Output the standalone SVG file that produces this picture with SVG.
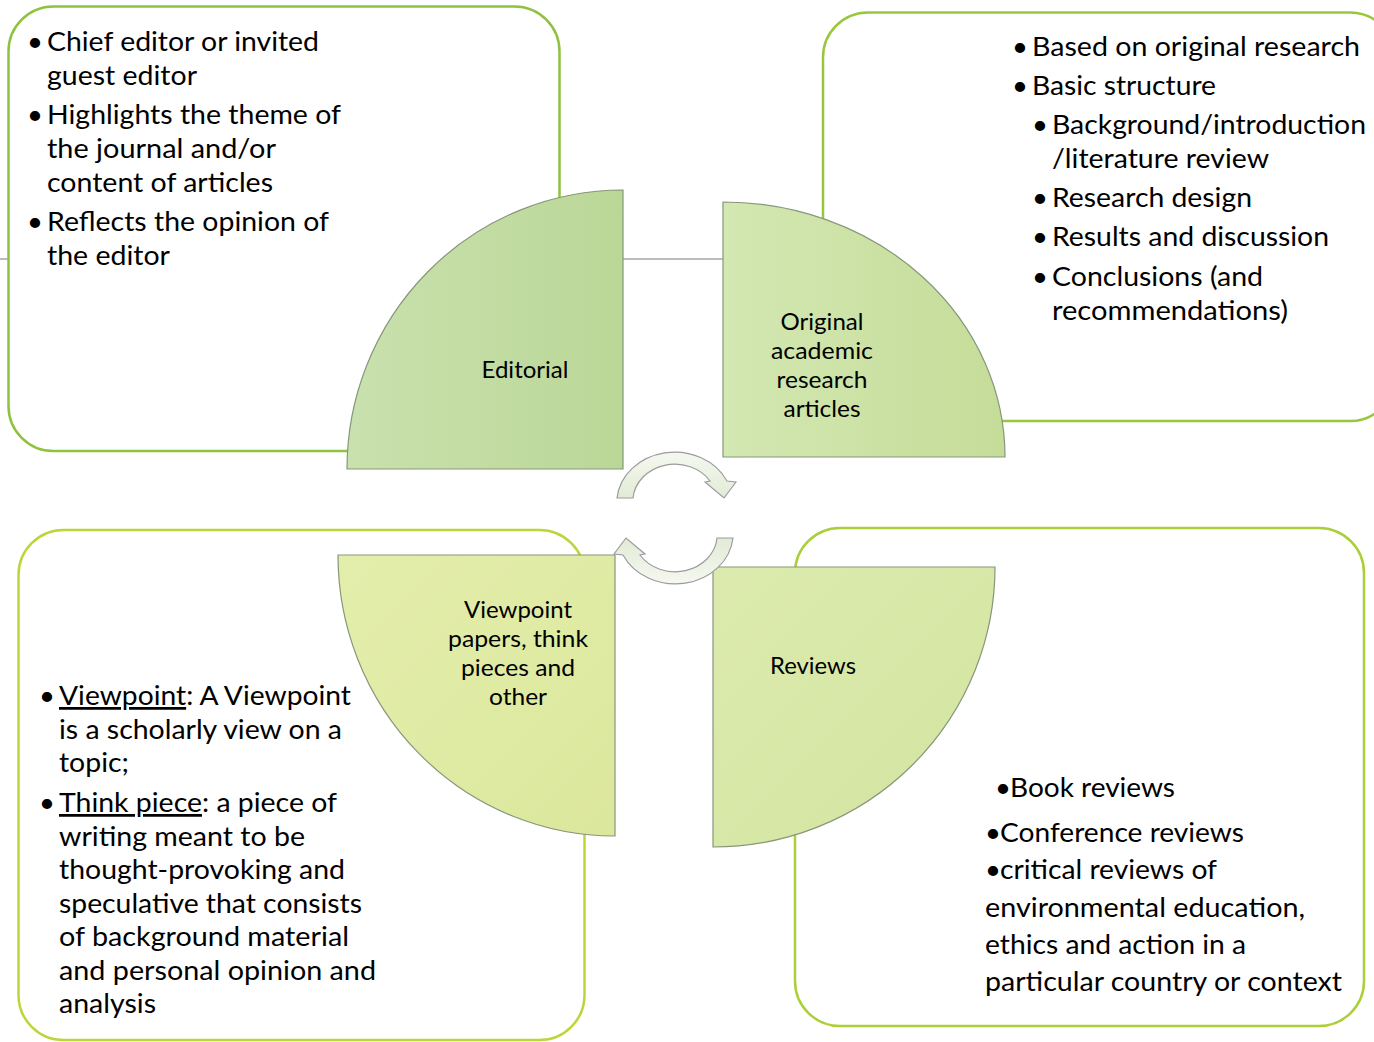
<svg xmlns="http://www.w3.org/2000/svg" width="1374" height="1042" viewBox="0 0 1374 1042">
<defs>
  <linearGradient id="gEd" x1="0" y1="0" x2="1" y2="0"><stop offset="0" stop-color="#c9e1ae"/><stop offset="1" stop-color="#bbd797"/></linearGradient>
  <linearGradient id="gOr" x1="0" y1="0" x2="1" y2="0"><stop offset="0" stop-color="#d3e8b2"/><stop offset="1" stop-color="#c5dc99"/></linearGradient>
  <linearGradient id="gVp" x1="0" y1="0" x2="1" y2="1"><stop offset="0" stop-color="#e4eeac"/><stop offset="1" stop-color="#dbe79c"/></linearGradient>
  <linearGradient id="gRv" x1="0" y1="0" x2="1" y2="1"><stop offset="0" stop-color="#dcebad"/><stop offset="1" stop-color="#d3e4a1"/></linearGradient>
  <linearGradient id="gArr" x1="0" y1="0" x2="0" y2="1"><stop offset="0" stop-color="#f5f8f0"/><stop offset="1" stop-color="#e2ebd6"/></linearGradient>
</defs>
<style>
  .box { fill: #ffffff; stroke-width: 2.5; }
  .q { stroke: #86977a; stroke-width: 1.2; }
  .t { font-family: Lato, "Liberation Sans", sans-serif; font-size: 27.5px; fill: #000000; }
  .b { font-family: Lato, "Liberation Sans", sans-serif; font-size: 27.5px; fill: #000000; text-anchor: middle; }
  .lbl { font-family: Lato, "Liberation Sans", sans-serif; font-size: 23px; fill: #000000; text-anchor: middle; }
  .arr { fill: url(#gArr); stroke: #9c9c9c; stroke-width: 1.2; }
  .u { text-decoration: underline; }
</style>
<rect x="0" y="0" width="1374" height="1042" fill="#ffffff"/>

<g id="guides">
  <line x1="0" y1="259" x2="8" y2="259" stroke="#7a7a7a" stroke-width="1"/>
  <line x1="8" y1="259" x2="345" y2="259" stroke="#cccccc" stroke-width="1" stroke-dasharray="1 2"/>
  <line x1="901" y1="259" x2="1374" y2="259" stroke="#cccccc" stroke-width="1" stroke-dasharray="1 2"/>
  <line x1="623" y1="259" x2="723" y2="259" stroke="#7a7a7a" stroke-width="1"/>
</g>

<g id="box-editorial">
  <rect class="box" x="8.5" y="6.5" width="551" height="444.5" rx="45" stroke="#8fc23f"/>
</g>
<g id="box-original">
  <rect class="box" x="823" y="12.5" width="572" height="408.5" rx="45" stroke="#99c73c"/>
</g>
<g id="box-viewpoint">
  <rect class="box" x="18.5" y="530" width="566" height="510" rx="45" stroke="#bcd63a"/>
</g>
<g id="box-reviews">
  <rect class="box" x="795" y="528" width="569" height="498" rx="45" stroke="#abcf3a"/>
</g>

<g id="node-editorial">
  <path class="q" d="M 623 469 L 347 469 A 276 279 0 0 1 623 190 Z" fill="url(#gEd)"/>
  <text class="lbl" x="525" y="378" textLength="87" lengthAdjust="spacingAndGlyphs">Editorial</text>
</g>
<g id="node-original">
  <path class="q" d="M 723 457 L 723 202 A 282 255 0 0 1 1005 457 Z" fill="url(#gOr)"/>
  <text class="lbl" x="822" y="330" textLength="83" lengthAdjust="spacingAndGlyphs">Original</text>
  <text class="lbl" x="822" y="359" textLength="102" lengthAdjust="spacingAndGlyphs">academic</text>
  <text class="lbl" x="822" y="388" textLength="91" lengthAdjust="spacingAndGlyphs">research</text>
  <text class="lbl" x="822" y="417" textLength="77" lengthAdjust="spacingAndGlyphs">articles</text>
</g>
<g id="node-viewpoint">
  <path class="q" d="M 615 555 L 615 836 A 277 281 0 0 1 338 555 Z" fill="url(#gVp)"/>
  <text class="lbl" x="518" y="618" textLength="108" lengthAdjust="spacingAndGlyphs">Viewpoint</text>
  <text class="lbl" x="518" y="647" textLength="140" lengthAdjust="spacingAndGlyphs">papers, think</text>
  <text class="lbl" x="518" y="676" textLength="114" lengthAdjust="spacingAndGlyphs">pieces and</text>
  <text class="lbl" x="518" y="705" textLength="58" lengthAdjust="spacingAndGlyphs">other</text>
</g>
<g id="node-reviews">
  <path class="q" d="M 713 567 L 995 567 A 282 280 0 0 1 713 847 Z" fill="url(#gRv)"/>
  <text class="lbl" x="813" y="674" textLength="86" lengthAdjust="spacingAndGlyphs">Reviews</text>
</g>

<g id="connectors">
  <path class="arr" d="M 617 498 A 58 51 0 0 1 727 481 L 736 482 L 724 498 L 705 482 L 710 481 A 42 37 0 0 0 633 498 Z"/>
  <path class="arr" transform="rotate(180 675 518)" d="M 617 498 A 58 51 0 0 1 727 481 L 736 482 L 724 498 L 705 482 L 710 481 A 42 37 0 0 0 633 498 Z"/>
</g>

<g id="text-editorial">
  <text class="b" x="35" y="51">•</text>
  <text class="t" x="47" y="51" textLength="272" lengthAdjust="spacingAndGlyphs">Chief editor or invited</text>
  <text class="t" x="47" y="85" textLength="150" lengthAdjust="spacingAndGlyphs">guest editor</text>
  <text class="b" x="35" y="124">•</text>
  <text class="t" x="47" y="124" textLength="294" lengthAdjust="spacingAndGlyphs">Highlights the theme of</text>
  <text class="t" x="47" y="158" textLength="229" lengthAdjust="spacingAndGlyphs">the journal and/or</text>
  <text class="t" x="47" y="192" textLength="226" lengthAdjust="spacingAndGlyphs">content of articles</text>
  <text class="b" x="35" y="231">•</text>
  <text class="t" x="47" y="231" textLength="282" lengthAdjust="spacingAndGlyphs">Reflects the opinion of</text>
  <text class="t" x="47" y="265" textLength="123" lengthAdjust="spacingAndGlyphs">the editor</text>
</g>

<g id="text-original">
  <text class="b" x="1020" y="56">•</text>
  <text class="t" x="1032" y="56" textLength="328" lengthAdjust="spacingAndGlyphs">Based on original research</text>
  <text class="b" x="1020" y="95">•</text>
  <text class="t" x="1032" y="95" textLength="184" lengthAdjust="spacingAndGlyphs">Basic structure</text>
  <text class="b" x="1040" y="134">•</text>
  <text class="t" x="1052" y="134" textLength="314" lengthAdjust="spacingAndGlyphs">Background/introduction</text>
  <text class="t" x="1052" y="168" textLength="217" lengthAdjust="spacingAndGlyphs">/literature review</text>
  <text class="b" x="1040" y="207">•</text>
  <text class="t" x="1052" y="207" textLength="200" lengthAdjust="spacingAndGlyphs">Research design</text>
  <text class="b" x="1040" y="246">•</text>
  <text class="t" x="1052" y="246" textLength="277" lengthAdjust="spacingAndGlyphs">Results and discussion</text>
  <text class="b" x="1040" y="286">•</text>
  <text class="t" x="1052" y="286" textLength="211" lengthAdjust="spacingAndGlyphs">Conclusions (and</text>
  <text class="t" x="1052" y="320" textLength="236" lengthAdjust="spacingAndGlyphs">recommendations)</text>
</g>

<g id="text-viewpoint">
  <text class="b" x="47" y="705">•</text>
  <text class="t" x="59" y="705" textLength="292" lengthAdjust="spacingAndGlyphs"><tspan class="u">Viewpoint</tspan>: A Viewpoint</text>
  <text class="t" x="59" y="739" textLength="283" lengthAdjust="spacingAndGlyphs">is a scholarly view on a</text>
  <text class="t" x="59" y="772" textLength="70" lengthAdjust="spacingAndGlyphs">topic;</text>
  <text class="b" x="47" y="812">•</text>
  <text class="t" x="59" y="812" textLength="278" lengthAdjust="spacingAndGlyphs"><tspan class="u">Think piece</tspan>: a piece of</text>
  <text class="t" x="59" y="846" textLength="246" lengthAdjust="spacingAndGlyphs">writing meant to be</text>
  <text class="t" x="59" y="879" textLength="286" lengthAdjust="spacingAndGlyphs">thought-provoking and</text>
  <text class="t" x="59" y="913" textLength="303" lengthAdjust="spacingAndGlyphs">speculative that consists</text>
  <text class="t" x="59" y="946" textLength="290" lengthAdjust="spacingAndGlyphs">of background material</text>
  <text class="t" x="59" y="980" textLength="317" lengthAdjust="spacingAndGlyphs">and personal opinion and</text>
  <text class="t" x="59" y="1013" textLength="97" lengthAdjust="spacingAndGlyphs">analysis</text>
</g>

<g id="text-reviews">
  <text class="b" x="1003" y="797">•</text>
  <text class="t" x="1010" y="797" textLength="165" lengthAdjust="spacingAndGlyphs">Book reviews</text>
  <text class="b" x="993" y="842">•</text>
  <text class="t" x="1000" y="842" textLength="244" lengthAdjust="spacingAndGlyphs">Conference reviews</text>
  <text class="b" x="993" y="879">•</text>
  <text class="t" x="1000" y="879" textLength="217" lengthAdjust="spacingAndGlyphs">critical reviews of</text>
  <text class="t" x="985" y="917" textLength="320" lengthAdjust="spacingAndGlyphs">environmental education,</text>
  <text class="t" x="985" y="954" textLength="261" lengthAdjust="spacingAndGlyphs">ethics and action in a</text>
  <text class="t" x="985" y="991" textLength="357" lengthAdjust="spacingAndGlyphs">particular country or context</text>
</g>
</svg>
